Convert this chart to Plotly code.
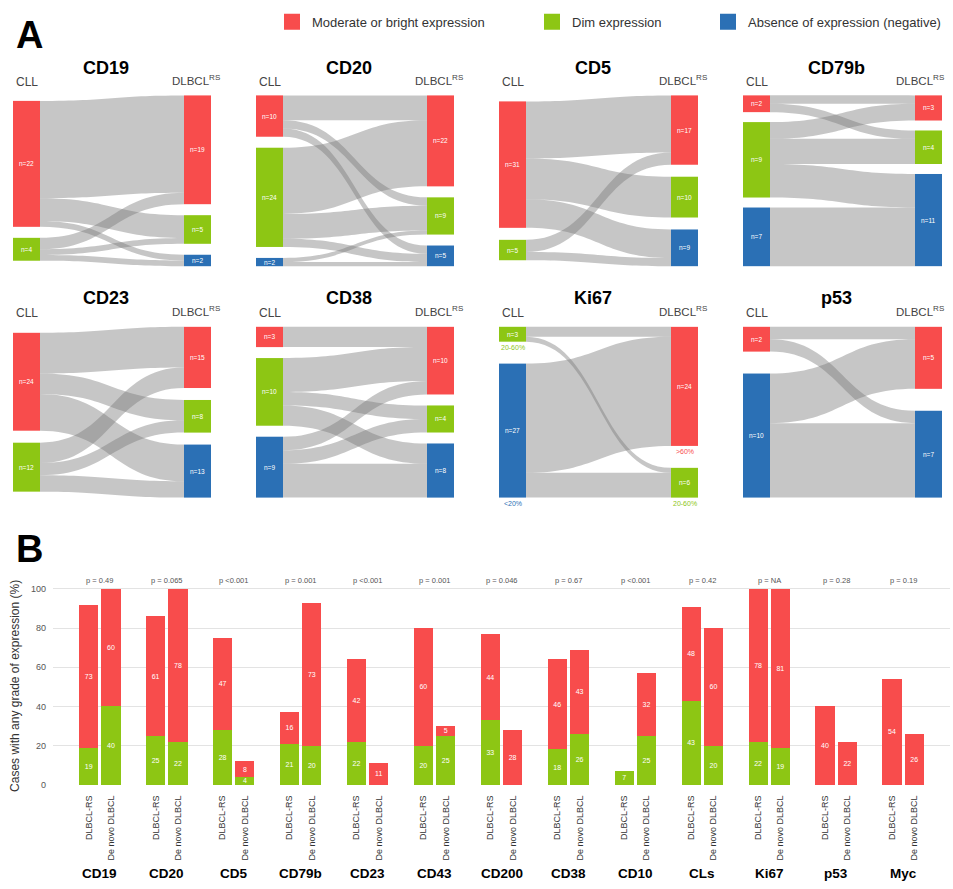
import plotly.graph_objects as go

FIG_W, FIG_H = 953, 889
FONT = "Liberation Sans, Arial, sans-serif"

RED = "#F84C4C"
GREEN = "#8DC614"
BLUE = "#2B70B5"
LINK_COLOR = "rgba(120,120,120,0.42)"
CAT_COLOR = {"R": RED, "G": GREEN, "B": BLUE}
CAT_ORDER = ["R", "G", "B"]

# ---------------- Panel A: CLL -> DLBCL-RS flows (category codes, number of cases)
sankey_titles = ["CD19", "CD20", "CD5", "CD79b", "CD23", "CD38", "Ki67", "p53"]

cd19_src = ["R", "R", "R", "G", "G", "G"]
cd19_tgt = ["R", "G", "B", "R", "G", "B"]
cd19_val = [17, 4, 1, 2, 1, 1]

cd20_src = ["R", "R", "R", "G", "G", "G", "B", "B"]
cd20_tgt = ["R", "G", "B", "R", "G", "B", "G", "B"]
cd20_val = [6, 2, 2, 16, 6, 2, 1, 1]

cd5_src = ["R", "R", "R", "G", "G"]
cd5_tgt = ["R", "G", "B", "R", "B"]
cd5_val = [14, 10, 7, 3, 2]

cd79b_src = ["R", "R", "G", "G", "G", "B"]
cd79b_tgt = ["R", "G", "R", "G", "B", "B"]
cd79b_val = [1, 1, 2, 3, 4, 7]

cd23_src = ["R", "R", "R", "G", "G", "G"]
cd23_tgt = ["R", "G", "B", "R", "G", "B"]
cd23_val = [10, 5, 9, 5, 3, 4]

cd38_src = ["R", "G", "G", "G", "B", "B", "B"]
cd38_tgt = ["R", "R", "G", "B", "R", "G", "B"]
cd38_val = [3, 5, 2, 3, 2, 2, 5]

ki67_src = ["G", "G", "B", "B"]
ki67_tgt = ["R", "G", "R", "G"]
ki67_val = [2, 1, 22, 5]

p53_src = ["R", "R", "B", "B"]
p53_tgt = ["R", "B", "R", "B"]
p53_val = [1, 1, 4, 6]

sankey_flows = [
    (cd19_src, cd19_tgt, cd19_val), (cd20_src, cd20_tgt, cd20_val),
    (cd5_src, cd5_tgt, cd5_val), (cd79b_src, cd79b_tgt, cd79b_val),
    (cd23_src, cd23_tgt, cd23_val), (cd38_src, cd38_tgt, cd38_val),
    (ki67_src, ki67_tgt, ki67_val), (p53_src, p53_tgt, p53_val),
]
# Ki67 class labels (CLL side, DLBCL side)
ki67_left_labels = {"G": "20-60%", "B": "<20%"}
ki67_right_labels = {"R": ">60%", "G": "20-60%"}

legend_labels = ["Moderate or bright expression", "Dim expression",
                 "Absence of expression (negative)"]

# ---------------- Panel B: % of cases with any grade of expression
bar_markers = ["CD19", "CD20", "CD5", "CD79b", "CD23", "CD43", "CD200",
               "CD38", "CD10", "CLs", "Ki67", "p53", "Myc"]
p_values = ["p = 0.49", "p = 0.065", "p <0.001", "p = 0.001", "p <0.001",
            "p = 0.001", "p = 0.046", "p = 0.67", "p <0.001", "p = 0.42",
            "p = NA", "p = 0.28", "p = 0.19"]
rs_dim = [19, 25, 28, 21, 22, 20, 33, 18, 7, 43, 22, None, None]
rs_bright = [73, 61, 47, 16, 42, 60, 44, 46, None, 48, 78, 40, 54]
dn_dim = [40, 22, 4, 20, None, 25, None, 26, 25, 20, 19, None, None]
dn_bright = [60, 78, 8, 73, 11, 5, 28, 43, 32, 60, 81, 22, 26]
bar_groups = ["DLBCL-RS", "De novo DLBCL"]

# ---------------- layout constants (pixels)
col_x = [(13, 211), (256, 454), (499, 698), (743, 942)]
row_y = [(94, 266), (327, 499)]
title_y = [66, 298]
head_y = [81, 313]
pads = [11, 11, 12, 10, 12, 11, 22, 22]
THICK = 27


def px(x):
    return x / FIG_W


def py(y):
    return 1 - y / FIG_H


def pann(x, y, text, size, color, **kw):
    d = dict(x=x, y=y, xref="paper", yref="paper", text=text, showarrow=False,
             xanchor="center", yanchor="middle",
             font=dict(size=size, color=color, family=FONT))
    d.update(kw)
    return d


fig = go.Figure()
annotations = []

for k, title in enumerate(sankey_titles):
    src, tgt, val = sankey_flows[k]
    r, c = divmod(k, 4)
    x0, x1 = col_x[c]
    y0, y1 = row_y[r]
    Wd, Hd = x1 - x0, y1 - y0
    pad = pads[k]
    left = [cat for cat in CAT_ORDER if cat in src]
    right = [cat for cat in CAT_ORDER if cat in tgt]
    ltot = [sum(v for s, v in zip(src, val) if s == cat) for cat in left]
    rtot = [sum(v for t, v in zip(tgt, val) if t == cat) for cat in right]
    total = sum(val)
    ky = (Hd - (max(len(left), len(right)) - 1) * pad) / total

    def centers(tots):
        L = sum(tots) * ky + (len(tots) - 1) * pad
        yy = (Hd - L) / 2
        out = []
        for v in tots:
            h = v * ky
            out.append((yy + h / 2, yy, yy + h))
            yy += h + pad
        return out

    lc = centers(ltot)
    rc = centers(rtot)
    xl = (THICK / 2) / Wd
    xr = 1 - (THICK / 2) / Wd
    node_x = [xl] * len(left) + [xr] * len(right)
    node_y = [cy / Hd for cy, _, _ in lc] + [cy / Hd for cy, _, _ in rc]
    node_col = [CAT_COLOR[cat] for cat in left] + [CAT_COLOR[cat] for cat in right]
    sources = [left.index(s) for s in src]
    targets = [len(left) + right.index(t) for t in tgt]

    fig.add_trace(go.Sankey(
        domain=dict(x=[px(x0), px(x1)], y=[py(y1), py(y0)]),
        arrangement="fixed",
        hoverinfo="none",
        node=dict(label=[""] * (len(left) + len(right)), color=node_col,
                  thickness=THICK, pad=pad, x=node_x, y=node_y,
                  line=dict(width=0)),
        link=dict(source=sources, target=targets, value=val, color=LINK_COLOR),
    ))

    # node counts inside nodes
    for cat, tot, (cy, ya, yb) in zip(left, ltot, lc):
        annotations.append(pann(px(x0 + THICK / 2), py(y0 + cy), f"n={tot}", 6.5, "white"))
        if title == "Ki67":
            annotations.append(pann(px(x0 + THICK / 2), py(y0 + yb + 6), ki67_left_labels[cat],
                                    7, CAT_COLOR[cat]))
    for cat, tot, (cy, ya, yb) in zip(right, rtot, rc):
        annotations.append(pann(px(x1 - THICK / 2), py(y0 + cy), f"n={tot}", 6.5, "white"))
        if title == "Ki67":
            annotations.append(pann(px(x1 - THICK / 2), py(y0 + yb + 6), ki67_right_labels[cat],
                                    7, CAT_COLOR[cat]))

    # headers
    annotations.append(pann(px((x0 + x1) / 2 - 6), py(title_y[r]), f"<b>{title}</b>", 18, "black"))
    annotations.append(pann(px(x0 + THICK / 2), py(head_y[r]), "CLL", 12, "#444"))
    annotations.append(pann(px(min(x1 + 11, 946)), py(head_y[r] - 2), "DLBCL<sup>RS</sup>", 11.5,
                            "#444", xanchor="right"))

# ---------------- Panel B bars
n = len(bar_markers)
xs = [3 * g for g in range(n)] + [3 * g + 1 for g in range(n)]
dim_vals = rs_dim + dn_dim
bright_vals = rs_bright + dn_bright


def txt(vals):
    return ["" if v is None else str(v) for v in vals]


fig.add_trace(go.Bar(x=xs, y=dim_vals, width=0.86, marker=dict(color=GREEN, line=dict(width=0)),
                     text=txt(dim_vals), textposition="inside", insidetextanchor="middle",
                     textangle=0, insidetextfont=dict(size=7, color="white", family=FONT),
                     showlegend=False, hoverinfo="skip"))
fig.add_trace(go.Bar(x=xs, y=bright_vals, width=0.86, marker=dict(color=RED, line=dict(width=0)),
                     text=txt(bright_vals), textposition="inside", insidetextanchor="middle",
                     textangle=0, insidetextfont=dict(size=7, color="white", family=FONT),
                     showlegend=False, hoverinfo="skip"))

# legend entries
for i, (lab, col) in enumerate(zip(legend_labels, [RED, GREEN, BLUE])):
    fig.add_trace(go.Scatter(x=[None], y=[None], mode="markers", name=lab,
                             marker=dict(symbol="square", size=16, color=col, line=dict(width=0)),
                             legend="legend" if i == 0 else f"legend{i + 1}"))

tickvals = xs
ticktext = [bar_groups[0]] * n + [bar_groups[1]] * n

for g, (m, p) in enumerate(zip(bar_markers, p_values)):
    annotations.append(dict(x=3 * g + 0.5, xref="x", y=py(877), yref="paper", text=f"<b>{m}</b>",
                            showarrow=False, xanchor="center", yanchor="middle",
                            font=dict(size=13.5, color="black", family=FONT)))
    annotations.append(dict(x=3 * g + 0.5, xref="x", y=py(582), yref="paper", text=p,
                            showarrow=False, xanchor="center", yanchor="middle",
                            font=dict(size=7.5, color="#555", family=FONT)))

annotations.append(pann(px(29), py(33), "<b>A</b>", 38, "black"))
annotations.append(pann(px(29), py(551), "<b>B</b>", 38, "black"))

legend_common = dict(orientation="h", yanchor="middle", xanchor="left", y=py(20),
                     font=dict(size=13, color="#333", family=FONT),
                     bgcolor="rgba(0,0,0,0)", itemsizing="trace")

fig.update_layout(
    width=FIG_W, height=FIG_H,
    margin=dict(l=0, r=0, t=0, b=0),
    paper_bgcolor="white", plot_bgcolor="white",
    font=dict(family=FONT),
    barmode="stack",
    uniformtext=dict(minsize=6.5, mode="show"),
    annotations=annotations,
    legend=dict(x=px(272), **legend_common),
    legend2=dict(x=px(532), **legend_common),
    legend3=dict(x=px(708), **legend_common),
    xaxis=dict(domain=[px(53), px(950)], range=[-1.6, 38.6], tickmode="array",
               tickvals=tickvals, ticktext=ticktext, tickangle=-90,
               tickfont=dict(size=9, color="#333", family=FONT),
               showgrid=False, zeroline=False, showline=False, ticks="",
               ticklabelstandoff=7),
    yaxis=dict(domain=[py(789), py(588)], range=[-0.5, 101.5], tickvals=[0, 20, 40, 60, 80, 100],
               showgrid=True, gridcolor="#E3E3E3", gridwidth=1, zeroline=False,
               showline=False, ticks="", tickfont=dict(size=9, color="#555", family=FONT),
               ticklabelstandoff=6,
               title=dict(text="Cases with any grade of expression (%)",
                          font=dict(size=12, color="#333", family=FONT), standoff=8)),
)

fig.write_html("out.html", config={"displayModeBar": False},
               post_script="document.body.style.margin='0px';")
